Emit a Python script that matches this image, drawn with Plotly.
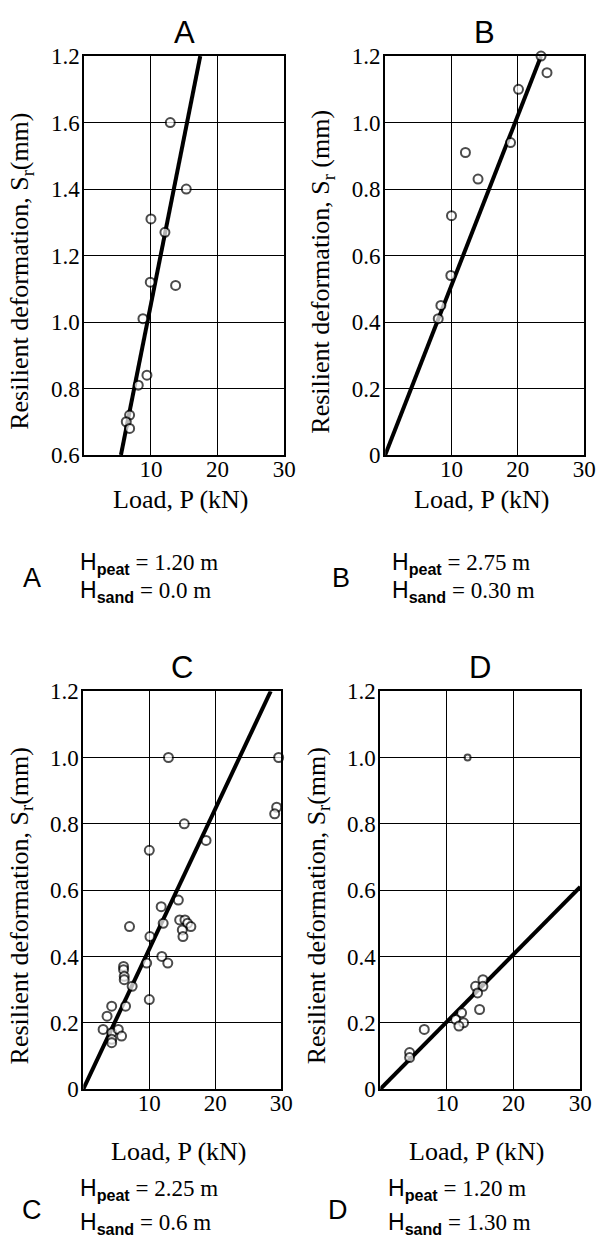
import plotly.graph_objects as go

# ---------------- data ----------------
A_load = [12.9, 15.3, 10.0, 12.1, 9.9, 13.7, 8.8, 9.4, 8.1, 6.8, 6.3, 6.8]
A_def = [1.60, 1.40, 1.31, 1.27, 1.12, 1.11, 1.01, 0.84, 0.81, 0.72, 0.70, 0.68]
A_fit_load = [5.5, 17.4]
A_fit_def = [0.6, 1.8]

B_load = [23.5, 24.4, 20.1, 12.1, 14.0, 18.9, 10.0, 9.9, 8.4, 8.0]
B_def = [1.20, 1.15, 1.10, 0.91, 0.83, 0.94, 0.72, 0.54, 0.45, 0.41]
B_fit_load = [0, 23.5]
B_fit_def = [0, 1.2]

C_load = [12.9, 29.6, 29.3, 29.0, 15.3, 18.6, 10.0, 14.4, 11.8, 12.1, 7.0, 10.1,
          14.6, 15.4, 15.8, 16.3, 15.0, 15.1, 11.9, 12.8, 9.6,
          6.1, 6.1, 6.2, 6.2, 7.4, 10.0, 6.4, 4.3, 3.6, 3.0, 4.3, 5.3, 4.3, 5.8, 4.3]
C_def = [1.00, 1.00, 0.85, 0.83, 0.80, 0.75, 0.72, 0.57, 0.55, 0.50, 0.49, 0.46,
         0.51, 0.51, 0.50, 0.49, 0.48, 0.46, 0.40, 0.38, 0.38,
         0.37, 0.36, 0.34, 0.33, 0.31, 0.27, 0.25, 0.25, 0.22, 0.18, 0.17, 0.18, 0.15, 0.16, 0.14]
C_fit_load = [0, 28.4]
C_fit_def = [0, 1.2]

D_load = [13.1, 14.3, 15.4, 15.4, 14.6, 14.9, 12.2, 11.3, 12.5, 11.8, 6.6, 4.4, 4.4]
D_def = [1.00, 0.31, 0.33, 0.31, 0.29, 0.24, 0.23, 0.21, 0.20, 0.19, 0.18, 0.11, 0.095]
D_fit_load = [0, 30]
D_fit_def = [0, 0.61]

x_ticks = [10, 20, 30]
x_ticktext = ["10", "20", "30"]
A_yticks = [0.6, 0.8, 1.0, 1.2, 1.4, 1.6, 1.8]
A_yticktext = ["0.6", "0.8", "1.0", "1.2", "1.4", "1.6", "1.2"]
std_yticks = [0, 0.2, 0.4, 0.6, 0.8, 1.0, 1.2]
std_yticktext = ["0", "0.2", "0.4", "0.6", "0.8", "1.0", "1.2"]

panel_names = ["A", "B", "C", "D"]
H_peat = ["1.20", "2.75", "2.25", "1.20"]
H_sand = ["0.0", "0.30", "0.6", "1.30"]

# ---------------- layout helpers ----------------
W, H = 603, 1254
SERIF = "Liberation Serif"
SANS = "Liberation Sans"

def px_x(p):
    return p / W

def px_y(p):
    return 1 - p / H

# plot boxes in pixels: (left, right, top, bottom)
boxes = {
    "A": (86, 290, 45, 452),
    "B": (393, 596, 45, 452),
    "C": (85, 287, 693, 1099),
    "D": (388, 592, 693, 1099),
}
# caption positions: (letter x, text x, load-title y, peat y, sand y, letter y)
captions = {
    "A": (33, 80, 497, 563, 591, 578),
    "B": (348, 398, 497, 563, 591, 578),
    "C": (33, 80, 1163, 1201, 1236, 1222),
    "D": (345, 394, 1163, 1201, 1236, 1222),
}

fig = go.Figure()

panels = [
    ("A", A_load, A_def, A_fit_load, A_fit_def, [0.6, 1.8], A_yticks, A_yticktext),
    ("B", B_load, B_def, B_fit_load, B_fit_def, [0, 1.2], std_yticks, std_yticktext),
    ("C", C_load, C_def, C_fit_load, C_fit_def, [0, 1.2], std_yticks, std_yticktext),
    ("D", D_load, D_def, D_fit_load, D_fit_def, [0, 1.2], std_yticks, std_yticktext),
]

annotations = []
for i, (name, xs, ys, fx, fy, yr, yt, ytt) in enumerate(panels):
    n = "" if i == 0 else str(i + 1)
    xa, ya = "x" + n, "y" + n
    l, r, t, b = boxes[name]
    sizes = [6 if (name == "D" and v >= 0.9) else 9 for v in ys]
    fig.add_trace(go.Scatter(x=fx, y=fy, mode="lines", xaxis=xa, yaxis=ya,
                             line=dict(color="black", width=4), showlegend=False,
                             hoverinfo="skip"))
    fig.add_trace(go.Scatter(x=xs, y=ys, mode="markers", xaxis=xa, yaxis=ya,
                             marker=dict(symbol="circle", size=sizes, color="white",
                                         line=dict(color="black", width=2)),
                             cliponaxis=False, showlegend=False))
    axis_common = dict(showline=True, linecolor="black", linewidth=2, mirror=True,
                       showgrid=True, gridcolor="black", gridwidth=1, zeroline=False,
                       ticks="", fixedrange=True)
    fig.layout["xaxis" + n] = dict(axis_common, domain=[px_x(l), px_x(r)], range=[0, 30],
                                   tickvals=x_ticks, ticktext=x_ticktext,
                                   anchor=ya, ticklabelstandoff=-8)
    fig.layout["yaxis" + n] = dict(axis_common, domain=[px_y(b), px_y(t)], range=yr,
                                   tickvals=yt, ticktext=ytt, anchor=xa,
                                   ticklabelstandoff=-2)

    lx, tx, ly, py_, sy, lety = captions[name]
    cx = (l + r) / 2
    # panel title
    annotations.append(dict(text=name, x=px_x(cx), y=px_y(t - 24), xref="paper", yref="paper",
                            showarrow=False, font=dict(family=SANS, size=31, color="black"),
                            xanchor="center", yanchor="middle"))
    # y axis title
    sp = " " if name == "B" else ""
    annotations.append(dict(text="Resilient deformation, S<sub>r</sub>" + sp + "(mm)",
                            x=px_x(l - 64), y=px_y((t + b) / 2 + 16), xref="paper", yref="paper",
                            showarrow=False, textangle=-90,
                            font=dict(family=SERIF, size=26, color="black"),
                            xanchor="center", yanchor="middle"))
    # x axis title
    annotations.append(dict(text="Load, P (kN)", x=px_x(cx - 3), y=px_y(ly),
                            xref="paper", yref="paper", showarrow=False,
                            font=dict(family=SERIF, size=26, color="black"),
                            xanchor="center", yanchor="middle"))
    # bottom caption
    annotations.append(dict(text=name, x=px_x(lx), y=px_y(lety), xref="paper", yref="paper",
                            showarrow=False, font=dict(family=SANS, size=27, color="black"),
                            xanchor="center", yanchor="middle"))
    idx = panel_names.index(name)
    hp = ('<span style="font-family:Liberation Sans">H</span><sub>'
          '<span style="font-family:Liberation Sans;font-weight:bold">peat</span></sub>'
          ' = ' + H_peat[idx] + ' m')
    hs = ('<span style="font-family:Liberation Sans">H</span><sub>'
          '<span style="font-family:Liberation Sans;font-weight:bold">sand</span></sub>'
          ' = ' + H_sand[idx] + ' m')
    annotations.append(dict(text=hp, x=px_x(tx), y=px_y(py_), xref="paper", yref="paper",
                            showarrow=False, font=dict(family=SERIF, size=23, color="black"),
                            xanchor="left", yanchor="middle"))
    annotations.append(dict(text=hs, x=px_x(tx), y=px_y(sy), xref="paper", yref="paper",
                            showarrow=False, font=dict(family=SERIF, size=23, color="black"),
                            xanchor="left", yanchor="middle"))

fig.update_xaxes(tickfont=dict(family=SERIF, size=23, color="black"))
fig.update_yaxes(tickfont=dict(family=SERIF, size=23, color="black"))
fig.update_layout(width=W, height=H, margin=dict(l=0, r=0, t=0, b=0),
                  paper_bgcolor="white", plot_bgcolor="white",
                  font=dict(family=SERIF, size=23, color="black"),
                  annotations=annotations, showlegend=False)

fig.write_html("out.html", config={"displayModeBar": False})
